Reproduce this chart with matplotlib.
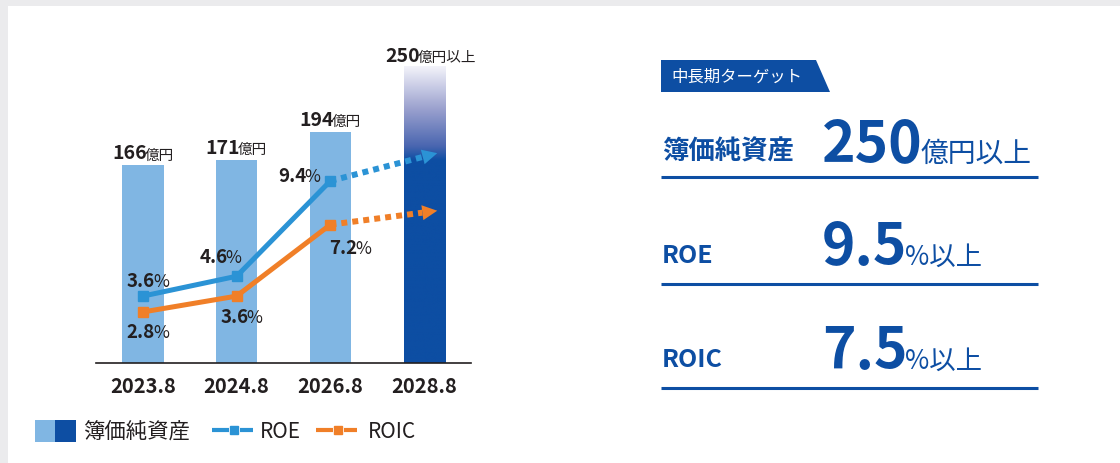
import matplotlib
matplotlib.use('Agg')
import matplotlib.pyplot as plt
import numpy as np
from matplotlib.patches import Rectangle, Polygon
from matplotlib.colors import LinearSegmentedColormap

plt.rcParams['font.family'] = ['Noto Sans CJK JP', 'DejaVu Sans']

# ---- data ----
periods = ['2023.8', '2024.8', '2026.8', '2028.8']
book_value = [166, 171, 194, 250]          # 億円
book_units = ['億円', '億円', '億円', '億円以上']
roe = [3.6, 4.6, 9.4]                       # %
roic = [2.8, 3.6, 7.2]                      # %
roe_target = 9.5
roic_target = 7.5
# where the dotted arrows end (read off the picture, not to scale)
arrow_x = 3.14
roe_arrow_end = 10.8
roic_arrow_end = 7.9

# label offsets in pixels (dx, dy of baseline) from each point
book_offsets = [(0, 7), (0, 7), (0, 7), (7, 5)]
roe_offsets = [(5, 10), (-16, 14), (-31, 0)]
roic_offsets = [(5, -25), (5, -26), (20, -28)]

# ---- colours ----
LIGHT = '#80b6e3'
DARK = '#0d4ea3'
ROE_C = '#2b93d5'
ROIC_C = '#f07f28'
INK = '#231f20'
GRAY_BG = '#ebebed'

W, H = 1120, 464
fig = plt.figure(figsize=(W / 100, H / 100), dpi=100)
fig.patch.set_facecolor('white')

# overlay axes in pixel coords (top-left origin) for background, legend, right panel
ov = fig.add_axes([0, 0, 1, 1])
ov.set_xlim(0, W)
ov.set_ylim(H, 0)
ov.axis('off')
ov.add_patch(Rectangle((0, 0), W, 7, color=GRAY_BG, lw=0))
ov.add_patch(Rectangle((0, 0), 8, H, color=GRAY_BG, lw=0))

# main chart axes
left, right, base, top = 96, 471, 364, 40
ax = fig.add_axes([left / W, 1 - base / H, (right - left) / W, (base - top) / H])
ax.set_facecolor('none')
x = np.arange(len(periods))
bar_w = 0.44
bars = ax.bar(x[:3], book_value[:3], bar_w, color=LIGHT, zorder=1)
last = ax.bar(x[3], book_value[3], bar_w, color=DARK, zorder=1)[0]

# gradient on the target bar
cmap = LinearSegmentedColormap.from_list(
    'fade', [(0, DARK), (0.15, '#4a66b0'), (0.55, '#9ca2cf'), (1, '#f5f5fb')])
vals = np.linspace(0, book_value[3], 600)
grad = np.clip((vals - 170) / (book_value[3] - 170), 0, 1).reshape(-1, 1)
im = ax.imshow(grad, cmap=cmap, vmin=0, vmax=1, origin='lower', aspect='auto',
               extent=(x[3] - bar_w / 2, x[3] + bar_w / 2, 0, book_value[3]), zorder=2)
im.set_clip_path(last)

ax.set_xlim(-0.5, 3.5)
ax.set_ylim(0, (base - top) / 1.19)
for s in ['top', 'left', 'right']:
    ax.spines[s].set_visible(False)
ax.spines['bottom'].set_color(INK)
ax.spines['bottom'].set_linewidth(1.2)
ax.set_yticks([])
ax.set_xticks(x, periods, fontsize=14.5, fontweight='bold', color=INK)
ax.tick_params(axis='x', length=0, pad=8.5)

# percentage axis
ax2 = ax.twinx()
ax2.set_ylim(0.23, 16.55)
ax2.axis('off')

ax2.plot(x[:3], roe, color=ROE_C, lw=3.6, marker='s', ms=7.5, zorder=5, solid_capstyle='butt')
ax2.plot(x[:3], roic, color=ROIC_C, lw=3.6, marker='s', ms=7.5, zorder=5, solid_capstyle='butt')


def dotted_arrow(y_start, y_end, color):
    p0 = ax2.transData.transform((x[2], y_start))
    p1 = ax2.transData.transform((arrow_x, y_end))
    d = p1 - p0
    L = np.hypot(*d)
    u = d / L
    n = np.array([-u[1], u[0]])
    head_len, head_half = 15, 7.5
    f = 1 - head_len / L
    bx = x[2] + f * (arrow_x - x[2])
    by = y_start + f * (y_end - y_start)
    ax2.plot([x[2], bx], [y_start, by], color=color, lw=4.3, dashes=(1.0, 0.85),
             dash_capstyle='butt', zorder=4)
    b = p1 - head_len * u
    tri = Polygon([p1, b + head_half * n, b - head_half * n], closed=True,
                  facecolor=color, edgecolor='none', transform=None, zorder=4)
    ax2.add_artist(tri)


dotted_arrow(roe[2], roe_arrow_end, ROE_C)
dotted_arrow(roic[2], roic_arrow_end, ROIC_C)

# two-part labels (big number + small unit), centred after measuring
pairs = []


def two_part(a, xy, big, small, dx, dy, big_kw, small_kw, gap=0):
    t1 = a.annotate(big, xy, xytext=(0, 0), textcoords='offset pixels',
                    ha='left', va='baseline', zorder=6, **big_kw)
    t2 = a.annotate(small, xy, xytext=(0, 0), textcoords='offset pixels',
                    ha='left', va='baseline', zorder=6, **small_kw)
    pairs.append((t1, t2, dx, dy, gap))


num_kw = dict(fontsize=14, fontweight='bold', color=INK)
unit_kw = dict(fontsize=10.5, color=INK)
for i, v in enumerate(book_value):
    dx, dy = book_offsets[i]
    two_part(ax, (x[i], v), str(v), book_units[i], dx, dy, num_kw, unit_kw, gap=-2)

pct_kw = dict(fontsize=13.5, fontweight='bold', color=INK)
sign_kw = dict(fontsize=12.5, color=INK)
for i, v in enumerate(roe):
    dx, dy = roe_offsets[i]
    two_part(ax2, (x[i], v), f'{v:.1f}', '%', dx, dy, pct_kw, sign_kw, gap=-2)
for i, v in enumerate(roic):
    dx, dy = roic_offsets[i]
    two_part(ax2, (x[i], v), f'{v:.1f}', '%', dx, dy, pct_kw, sign_kw, gap=-2)

# ---- legend (drawn in pixel coords) ----
ly = 432
ov.add_patch(Rectangle((35, 421), 20, 22, color=LIGHT, lw=0))
ov.add_patch(Rectangle((55, 421), 21, 22, color=DARK, lw=0))
ov.text(83, ly, '簿価純資産', fontsize=15.4, color=INK, va='center', ha='left')
for x0, col, name in [(212, ROE_C, 'ROE'), (316, ROIC_C, 'ROIC')]:
    ov.plot([x0, x0 + 17], [ly - 1, ly - 1], color=col, lw=3, solid_capstyle='butt')
    ov.plot([x0 + 28, x0 + 41], [ly - 1, ly - 1], color=col, lw=3, solid_capstyle='butt')
    ov.plot([x0 + 22], [ly - 1], marker='s', ms=6, color=col)
    ov.text(x0 + (48 if name == 'ROE' else 52), ly, name, fontsize=15, color=INK,
            va='center', ha='left')

# ---- right panel: targets ----
ov.add_patch(Polygon([(661, 61), (816, 61), (830, 93), (661, 93)], closed=True,
                     facecolor=DARK, edgecolor='none'))
ov.text(671, 77.5, '中長期ターゲット', fontsize=11.8, color='white', va='center', ha='left')

rows = [
    ('簿価純資産', str(book_value[3]), '億円以上', 162, 178),
    ('ROE', f'{roe_target:.1f}', '%以上', 265, 285),
    ('ROIC', f'{roic_target:.1f}', '%以上', 369, 389),
]
for name, big, unit, yb, yl in rows:
    if name == '簿価純資産':
        ov.text(662, yb - 2, name, fontsize=19, fontweight='bold', color=DARK,
                va='baseline', ha='left')
    else:
        ov.text(662, yb - 2, name, fontsize=18, fontweight='bold', color=DARK,
                va='baseline', ha='left')
    two_part(ov, (822, yb), big, unit, None, 0,
             dict(fontsize=41, fontweight='bold', color=DARK),
             dict(fontsize=20 if unit == '億円以上' else 19, color=DARK), gap=-2)
    ov.plot([661, 1038], [yl, yl], color=DARK, lw=2.2, solid_capstyle='butt')

fig.canvas.draw()
r = fig.canvas.get_renderer()
for t1, t2, dx, dy, gap in pairs:
    w1 = t1.get_window_extent(r).width
    w2 = t2.get_window_extent(r).width
    if dx is None:  # left aligned
        start = 0
    else:
        start = dx - (w1 + w2 + gap) / 2
    t1.xyann = (start, dy)
    t2.xyann = (start + w1 + gap, dy)

fig.savefig('out.png', dpi=100, facecolor='white')
